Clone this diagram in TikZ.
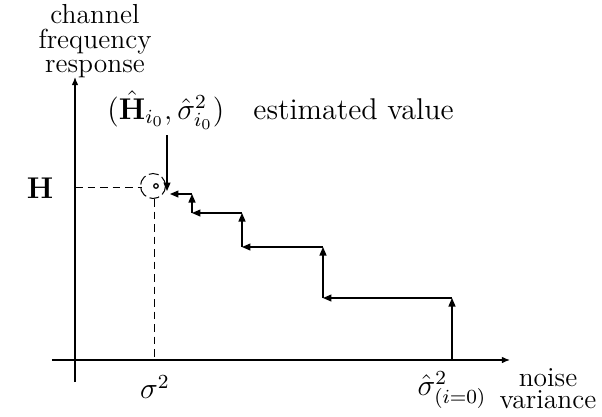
\documentclass[tikz,border=0pt]{standalone}
\usetikzlibrary{arrows.meta}
\begin{document}
\begin{tikzpicture}[x=0.4pt,y=-0.4pt,
  axis/.style={line width=0.5pt,-{Latex[length=3.2pt,width=2.6pt]}},
  stair/.style={line width=0.5pt,-{Triangle[length=3.4pt,width=2.8pt]}},
  guide/.style={line width=0.4pt,dash pattern=on 3pt off 2pt},
  lbl/.style={inner sep=0pt,font=\fontsize{12pt}{14pt}\selectfont},
  axlbl/.style={inner sep=0pt,font=\fontsize{11pt}{13pt}\selectfont}]
\useasboundingbox (0,0) rectangle (602,416);
% axes
\coordinate (yb) at (75,382);
\coordinate (yt) at (75,77);
\coordinate (xl) at (52,360);
\coordinate (xr) at (510,360);
\draw[axis] (yb) -- (yt);
\draw[axis] (xl) -- (xr);
% estimate point
\coordinate (est) at (156,186);
\coordinate (hl) at (75,187);
\coordinate (sx) at (155,360);
\draw[guide] (hl) -- (142,187);
\draw[guide] (155,199) -- (sx);
\draw[line width=0.4pt,dash pattern=on 4pt off 1.5pt] (153,186) circle[radius=5pt];
\draw[line width=0.5pt] (est) circle[radius=0.9pt];
% staircase
\coordinate (s0) at (452,360);
\coordinate (s1) at (452,298);
\coordinate (s2) at (323,298);
\coordinate (s3) at (323,247);
\coordinate (s4) at (242,247);
\coordinate (s5) at (242,213);
\coordinate (s6) at (192,213);
\coordinate (s7) at (192,194);
\coordinate (s8) at (170,194);
\draw[stair] (s0) -- (s1);
\draw[stair] (s1) -- (s2);
\draw[stair] (s2) -- (s3);
\draw[stair] (s3) -- (s4);
\draw[stair] (s4) -- (s5);
\draw[stair] (s5) -- (s6);
\draw[stair] (s6) -- (s7);
\draw[stair] (s7) -- (s8);
% pointer from label
\coordinate (pt) at (167,135);
\coordinate (pe) at (167,191);
\draw[stair] (pt) -- (pe);
% labels
\node[axlbl,anchor=base] (yl1) at (95,23) {channel};
\node[axlbl,anchor=base] (yl2) at (95,48) {frequency};
\node[axlbl,anchor=base] (yl3) at (95,72) {response};
\node[lbl,anchor=base west] (elab) at (107,119) {$(\hat{\mathbf{H}}_{i_0},\hat{\sigma}^2_{i_0})$};
\node[lbl,anchor=base west] (evl) at (253,119) {estimated value};
\node[lbl] (hlab) at (40,188) {$\mathbf{H}$};
\node[lbl] (slab) at (155,387) {$\sigma^2$};
\node[lbl] (s0lab) at (452,390) {$\hat{\sigma}^2_{(i=0)}$};
\node[axlbl,anchor=base] (xl1) at (548,386) {noise};
\node[axlbl,anchor=base] (xl2) at (548,408) {variance};
\end{tikzpicture}
\end{document}
